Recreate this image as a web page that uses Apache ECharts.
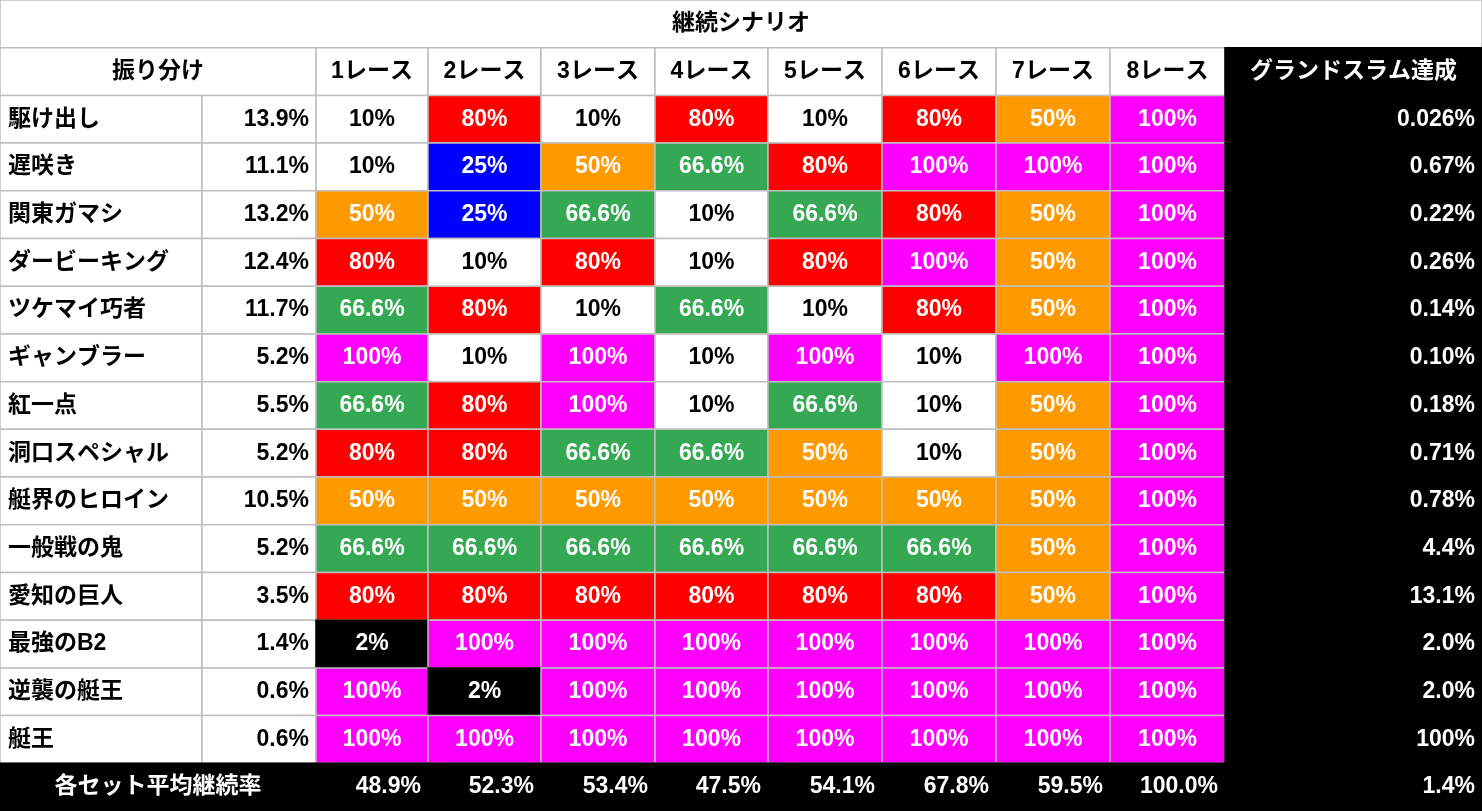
<!DOCTYPE html>
<html><head><meta charset="utf-8">
<script src="https://cdn.jsdelivr.net/npm/echarts@6/dist/echarts.min.js"></script>
<style>html,body{margin:0;padding:0;background:#fff}#c{width:1482px;height:811px}</style>
</head><body><div id="c"></div>
<script>
const title = '継続シナリオ';
const headerLabel = '振り分け';
const raceHeaders = ['1レース','2レース','3レース','4レース','5レース','6レース','7レース','8レース'];
const gsHeader = 'グランドスラム達成';
const names = ['駆け出し','遅咲き','関東ガマシ','ダービーキング','ツケマイ巧者','ギャンブラー','紅一点','洞口スペシャル','艇界のヒロイン','一般戦の鬼','愛知の巨人','最強のB2','逆襲の艇王','艇王'];
const shares = ['13.9%','11.1%','13.2%','12.4%','11.7%','5.2%','5.5%','5.2%','10.5%','5.2%','3.5%','1.4%','0.6%','0.6%'];
const rates = [
 [10,80,10,80,10,80,50,100],
 [10,25,50,66.6,80,100,100,100],
 [50,25,66.6,10,66.6,80,50,100],
 [80,10,80,10,80,100,50,100],
 [66.6,80,10,66.6,10,80,50,100],
 [100,10,100,10,100,10,100,100],
 [66.6,80,100,10,66.6,10,50,100],
 [80,80,66.6,66.6,50,10,50,100],
 [50,50,50,50,50,50,50,100],
 [66.6,66.6,66.6,66.6,66.6,66.6,50,100],
 [80,80,80,80,80,80,50,100],
 [2,100,100,100,100,100,100,100],
 [100,2,100,100,100,100,100,100],
 [100,100,100,100,100,100,100,100]
];
const grandSlam = ['0.026%','0.67%','0.22%','0.26%','0.14%','0.10%','0.18%','0.71%','0.78%','4.4%','13.1%','2.0%','2.0%','100%'];
const footerLabel = '各セット平均継続率';
const averages = [48.9,52.3,53.4,47.5,54.1,67.8,59.5,100.0];
const gsAverage = '1.4%';

// layout (not data)
const edges = [0,202,316,428,541,655,768,882,996,1110,1225,1482];
const colorOf = {10:'#ffffff',25:'#0000ff',50:'#ff9900',66.6:'#34a853',80:'#ff0000',100:'#ff00ff',2:'#000000'};

const cells = [];
function add(c0,c1,row,text,fill,tc,align){cells.push({c0,c1,row,text,fill,tc,align});}
add(0,11,0,title,'#fff','#000','center');
add(0,2,1,headerLabel,'#fff','#000','center');
raceHeaders.forEach((h,i)=>add(i+2,i+3,1,h,'#fff','#000','center'));
add(10,11,1,gsHeader,'#000','#fff','center');
names.forEach((n,r)=>{
  const row=r+2;
  add(0,1,row,n,'#fff','#000','left');
  add(1,2,row,shares[r],'#fff','#000','right');
  rates[r].forEach((v,i)=>{const f=colorOf[v];add(i+2,i+3,row,v+'%',f,f==='#ffffff'?'#000':'#fff','center');});
  add(10,11,row,grandSlam[r],'#000','#fff','right');
});
add(0,2,16,footerLabel,'#000','#fff','center');
averages.forEach((v,i)=>add(i+2,i+3,16,v.toFixed(1)+'%','#000','#fff','right'));
add(10,11,16,gsAverage,'#000','#fff','right');

const chart = echarts.init(document.getElementById('c'));
chart.setOption({
  animation:false,
  grid:{left:0,right:0,top:0,bottom:0},
  xAxis:{type:'value',min:0,max:1482,show:false},
  yAxis:{type:'value',min:0,max:17,inverse:true,show:false},
  series:[{
    type:'custom',
    data:cells.map(c=>[edges[c.c0],c.row]),
    renderItem:(params,api)=>{
      const c=cells[params.dataIndex];
      const p0=api.coord([edges[c.c0],c.row]);
      const p1=api.coord([edges[c.c1],c.row+1]);
      const w=p1[0]-p0[0], h=p1[1]-p0[1];
      let tx=p0[0]+w/2;
      if(c.align==='left')tx=p0[0]+8;
      if(c.align==='right')tx=p1[0]-7;
      const black=c.fill==='#000'||c.fill==='#000000';
      return {type:'group',children:[
        {type:'rect',shape:{x:p0[0],y:p0[1],width:w,height:h},style:{fill:c.fill,stroke:black?'#000':'#bfbfbf',lineWidth:1.5}},
        {type:'text',style:{x:tx,y:p0[1]+h/2,text:c.text,fill:c.tc,align:c.align,verticalAlign:'middle',
          font:'bold 23px "Liberation Sans","Noto Sans CJK JP",sans-serif'}}
      ]};
    }
  }]
});
</script></body></html>
